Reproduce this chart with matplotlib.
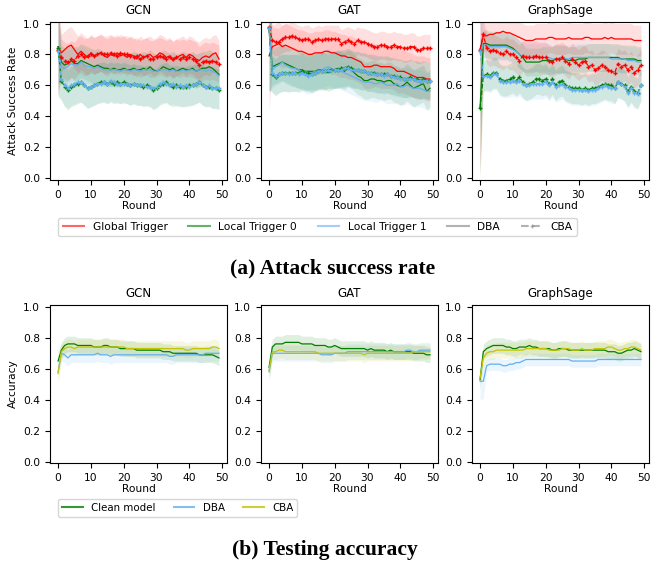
import matplotlib
matplotlib.use('Agg')
import matplotlib.pyplot as plt
from matplotlib.lines import Line2D
import numpy as np

rounds = list(range(50))
models = ['GCN', 'GAT', 'GraphSage']

# ---- attack success rate (top row) ----
# gt = global trigger, lt0/lt1 = local trigger 0/1 ; dba solid, cba dashed+
gcn_gt_dba = [0.85, 0.81, 0.83, 0.85, 0.86, 0.83, 0.80, 0.82, 0.80, 0.78, 0.81, 0.79, 0.80, 0.81, 0.79, 0.78, 0.80, 0.79, 0.81, 0.79,
              0.80, 0.78, 0.80, 0.79, 0.77, 0.80, 0.78, 0.79, 0.80, 0.78, 0.79, 0.81, 0.80, 0.78, 0.79, 0.76, 0.78, 0.79, 0.80, 0.78,
              0.80, 0.79, 0.77, 0.76, 0.78, 0.79, 0.78, 0.80, 0.81, 0.77]
gcn_gt_cba = [0.83, 0.78, 0.76, 0.75, 0.77, 0.76, 0.79, 0.80, 0.78, 0.79, 0.80, 0.79, 0.80, 0.81, 0.80, 0.80, 0.81, 0.80, 0.79, 0.81,
              0.80, 0.80, 0.79, 0.78, 0.79, 0.77, 0.78, 0.79, 0.77, 0.77, 0.78, 0.79, 0.78, 0.77, 0.78, 0.77, 0.78, 0.77, 0.78, 0.77,
              0.78, 0.77, 0.76, 0.73, 0.75, 0.76, 0.75, 0.76, 0.75, 0.74]
gcn_lt0_dba = [0.85, 0.75, 0.73, 0.74, 0.76, 0.74, 0.74, 0.76, 0.75, 0.74, 0.73, 0.72, 0.73, 0.72, 0.71, 0.71, 0.70, 0.71, 0.70, 0.70,
               0.71, 0.70, 0.70, 0.71, 0.70, 0.70, 0.71, 0.70, 0.72, 0.70, 0.69, 0.70, 0.72, 0.71, 0.70, 0.71, 0.69, 0.70, 0.71, 0.70,
               0.70, 0.71, 0.69, 0.70, 0.71, 0.71, 0.72, 0.71, 0.69, 0.67]
gcn_lt1_dba = [0.83, 0.72, 0.71, 0.72, 0.74, 0.73, 0.73, 0.75, 0.73, 0.72, 0.72, 0.71, 0.72, 0.71, 0.70, 0.70, 0.70, 0.70, 0.70, 0.69,
               0.70, 0.70, 0.69, 0.70, 0.70, 0.69, 0.70, 0.70, 0.70, 0.69, 0.69, 0.70, 0.70, 0.70, 0.69, 0.70, 0.69, 0.69, 0.70, 0.69,
               0.70, 0.70, 0.69, 0.70, 0.70, 0.69, 0.70, 0.69, 0.68, 0.66]
gcn_lt0_cba = [0.84, 0.63, 0.59, 0.57, 0.59, 0.60, 0.61, 0.62, 0.60, 0.58, 0.59, 0.60, 0.61, 0.62, 0.62, 0.61, 0.62, 0.61, 0.62, 0.61,
               0.62, 0.61, 0.60, 0.61, 0.60, 0.60, 0.59, 0.60, 0.59, 0.57, 0.58, 0.60, 0.61, 0.62, 0.60, 0.59, 0.60, 0.59, 0.59, 0.59,
               0.60, 0.60, 0.61, 0.62, 0.60, 0.59, 0.59, 0.58, 0.58, 0.57]
gcn_lt1_cba = [0.82, 0.64, 0.60, 0.58, 0.60, 0.61, 0.62, 0.62, 0.60, 0.58, 0.59, 0.60, 0.61, 0.61, 0.62, 0.61, 0.63, 0.62, 0.61, 0.61,
               0.61, 0.61, 0.60, 0.61, 0.60, 0.60, 0.60, 0.59, 0.59, 0.58, 0.59, 0.61, 0.62, 0.61, 0.60, 0.61, 0.59, 0.60, 0.59, 0.60,
               0.59, 0.60, 0.61, 0.62, 0.60, 0.59, 0.60, 0.58, 0.58, 0.58]

gat_gt_dba = [0.79, 0.85, 0.86, 0.87, 0.85, 0.86, 0.85, 0.84, 0.83, 0.82, 0.82, 0.81, 0.80, 0.80, 0.81, 0.81, 0.81, 0.82, 0.82, 0.81,
              0.81, 0.80, 0.79, 0.79, 0.78, 0.78, 0.77, 0.76, 0.75, 0.72, 0.72, 0.72, 0.73, 0.73, 0.72, 0.72, 0.72, 0.72, 0.71, 0.69,
              0.69, 0.69, 0.68, 0.67, 0.66, 0.65, 0.65, 0.65, 0.64, 0.64]
gat_gt_cba = [0.98, 0.89, 0.88, 0.88, 0.90, 0.91, 0.91, 0.92, 0.91, 0.90, 0.89, 0.90, 0.90, 0.88, 0.89, 0.90, 0.89, 0.90, 0.90, 0.90,
              0.90, 0.90, 0.87, 0.88, 0.89, 0.88, 0.87, 0.89, 0.88, 0.88, 0.87, 0.86, 0.85, 0.85, 0.86, 0.86, 0.85, 0.85, 0.86, 0.85,
              0.85, 0.84, 0.84, 0.85, 0.85, 0.83, 0.83, 0.84, 0.84, 0.84]
gat_lt0_dba = [0.96, 0.72, 0.73, 0.74, 0.75, 0.74, 0.73, 0.72, 0.71, 0.70, 0.70, 0.69, 0.69, 0.69, 0.69, 0.70, 0.70, 0.69, 0.68, 0.69,
               0.70, 0.71, 0.70, 0.69, 0.71, 0.70, 0.68, 0.66, 0.65, 0.63, 0.63, 0.64, 0.64, 0.63, 0.63, 0.62, 0.63, 0.63, 0.61, 0.60,
               0.59, 0.60, 0.62, 0.60, 0.58, 0.59, 0.60, 0.61, 0.56, 0.58]
gat_lt1_dba = [0.96, 0.70, 0.72, 0.73, 0.75, 0.73, 0.72, 0.71, 0.71, 0.70, 0.69, 0.69, 0.68, 0.68, 0.69, 0.69, 0.70, 0.71, 0.72, 0.71,
               0.70, 0.70, 0.69, 0.68, 0.67, 0.66, 0.65, 0.64, 0.63, 0.62, 0.62, 0.62, 0.61, 0.61, 0.62, 0.61, 0.60, 0.60, 0.60, 0.61,
               0.59, 0.59, 0.60, 0.59, 0.58, 0.58, 0.58, 0.57, 0.56, 0.56]
gat_lt0_cba = [0.97, 0.67, 0.65, 0.67, 0.68, 0.68, 0.68, 0.68, 0.68, 0.68, 0.69, 0.68, 0.68, 0.67, 0.68, 0.69, 0.69, 0.69, 0.70, 0.70,
               0.70, 0.70, 0.71, 0.71, 0.72, 0.71, 0.70, 0.70, 0.69, 0.69, 0.68, 0.68, 0.68, 0.67, 0.67, 0.67, 0.67, 0.66, 0.66, 0.65,
               0.65, 0.64, 0.64, 0.65, 0.64, 0.64, 0.63, 0.64, 0.63, 0.63]
gat_lt1_cba = [0.97, 0.68, 0.66, 0.67, 0.68, 0.68, 0.67, 0.68, 0.68, 0.67, 0.68, 0.67, 0.66, 0.67, 0.68, 0.69, 0.69, 0.69, 0.70, 0.69,
               0.70, 0.70, 0.70, 0.71, 0.71, 0.70, 0.70, 0.70, 0.69, 0.69, 0.68, 0.68, 0.67, 0.67, 0.67, 0.66, 0.67, 0.66, 0.65, 0.65,
               0.64, 0.64, 0.64, 0.64, 0.64, 0.63, 0.63, 0.63, 0.63, 0.63]

sage_gt_dba = [0.83, 0.92, 0.92, 0.93, 0.93, 0.94, 0.94, 0.95, 0.94, 0.94, 0.93, 0.92, 0.91, 0.90, 0.89, 0.89, 0.89, 0.90, 0.90, 0.90,
               0.90, 0.91, 0.91, 0.90, 0.90, 0.90, 0.90, 0.91, 0.90, 0.90, 0.90, 0.90, 0.91, 0.91, 0.90, 0.90, 0.90, 0.90, 0.91, 0.90,
               0.91, 0.90, 0.90, 0.90, 0.90, 0.90, 0.90, 0.89, 0.89, 0.89]
sage_gt_cba = [0.83, 0.93, 0.84, 0.82, 0.83, 0.82, 0.81, 0.80, 0.82, 0.80, 0.80, 0.78, 0.76, 0.79, 0.78, 0.78, 0.78, 0.79, 0.78, 0.78,
               0.78, 0.76, 0.75, 0.77, 0.77, 0.78, 0.76, 0.74, 0.77, 0.75, 0.73, 0.75, 0.76, 0.72, 0.73, 0.70, 0.71, 0.73, 0.72, 0.70,
               0.69, 0.68, 0.74, 0.72, 0.73, 0.70, 0.72, 0.68, 0.70, 0.73]
sage_lt0_dba = [0.45, 0.87, 0.87, 0.86, 0.86, 0.86, 0.86, 0.86, 0.86, 0.85, 0.84, 0.82, 0.80, 0.78, 0.75, 0.75, 0.75, 0.75, 0.75, 0.76,
                0.76, 0.76, 0.76, 0.77, 0.77, 0.77, 0.77, 0.76, 0.76, 0.76, 0.77, 0.77, 0.77, 0.78, 0.78, 0.78, 0.78, 0.78, 0.78, 0.78,
                0.78, 0.78, 0.78, 0.77, 0.77, 0.77, 0.77, 0.77, 0.76, 0.76]
sage_lt1_dba = [0.82, 0.86, 0.86, 0.85, 0.85, 0.85, 0.85, 0.85, 0.85, 0.84, 0.83, 0.82, 0.80, 0.79, 0.78, 0.78, 0.78, 0.78, 0.78, 0.78,
                0.78, 0.78, 0.77, 0.77, 0.77, 0.77, 0.77, 0.77, 0.78, 0.78, 0.78, 0.78, 0.78, 0.78, 0.78, 0.78, 0.78, 0.78, 0.78, 0.78,
                0.77, 0.77, 0.77, 0.77, 0.77, 0.76, 0.76, 0.76, 0.75, 0.75]
sage_lt0_cba = [0.45, 0.66, 0.67, 0.66, 0.68, 0.68, 0.64, 0.63, 0.63, 0.64, 0.65, 0.63, 0.65, 0.62, 0.60, 0.61, 0.62, 0.64, 0.64, 0.63,
                0.64, 0.61, 0.64, 0.60, 0.62, 0.63, 0.60, 0.59, 0.58, 0.58, 0.58, 0.57, 0.58, 0.57, 0.58, 0.58, 0.59, 0.60, 0.61, 0.60,
                0.60, 0.58, 0.62, 0.61, 0.60, 0.56, 0.59, 0.56, 0.55, 0.60]
sage_lt1_cba = [0.82, 0.66, 0.66, 0.65, 0.67, 0.67, 0.63, 0.62, 0.62, 0.62, 0.63, 0.62, 0.63, 0.61, 0.60, 0.60, 0.61, 0.61, 0.61, 0.61,
                0.62, 0.60, 0.62, 0.59, 0.60, 0.61, 0.59, 0.58, 0.57, 0.57, 0.57, 0.57, 0.57, 0.56, 0.57, 0.57, 0.58, 0.59, 0.60, 0.59,
                0.58, 0.58, 0.62, 0.61, 0.59, 0.55, 0.58, 0.55, 0.54, 0.60]

# std bands (first round is much wider)
gcn_gt_sd = [0.30] + [0.12] * 49
gcn_lt_dba_sd = [0.25] + [0.11] * 49
gcn_lt_cba_sd = [0.30] + [0.13] * 49
gat_gt_dba_sd = [0.35] + [0.14] * 49
gat_gt_cba_sd = [0.10] + [0.09] * 49
gat_lt_dba_sd = [0.40] + [0.12] * 49
gat_lt_cba_sd = [0.40] + [0.12] * 49
sage_gt_sd = [0.80] + [0.10] * 49
sage_lt_dba_sd = [0.45] + [0.09] * 49
sage_lt_cba_sd = [0.45] + [0.10] * 49

# ---- testing accuracy (bottom row) ----
gcn_clean = [0.65, 0.72, 0.75, 0.76, 0.76, 0.76, 0.75, 0.75, 0.75, 0.75, 0.75, 0.74, 0.74, 0.74, 0.75, 0.75, 0.74, 0.74, 0.74, 0.73,
             0.73, 0.73, 0.73, 0.73, 0.72, 0.72, 0.72, 0.72, 0.72, 0.72, 0.72, 0.72, 0.71, 0.71, 0.71, 0.70, 0.70, 0.70, 0.70, 0.70,
             0.70, 0.70, 0.70, 0.69, 0.69, 0.69, 0.69, 0.69, 0.68, 0.67]
gcn_dba = [0.58, 0.70, 0.69, 0.67, 0.69, 0.69, 0.69, 0.69, 0.69, 0.69, 0.69, 0.69, 0.70, 0.69, 0.69, 0.69, 0.68, 0.69, 0.69, 0.69,
           0.69, 0.69, 0.69, 0.69, 0.69, 0.69, 0.69, 0.69, 0.69, 0.69, 0.69, 0.69, 0.69, 0.69, 0.68, 0.68, 0.69, 0.69, 0.69, 0.69,
           0.69, 0.69, 0.69, 0.69, 0.69, 0.70, 0.70, 0.70, 0.70, 0.70]
gcn_cba = [0.57, 0.71, 0.73, 0.74, 0.74, 0.73, 0.74, 0.74, 0.74, 0.74, 0.74, 0.74, 0.74, 0.74, 0.74, 0.74, 0.74, 0.74, 0.74, 0.74,
           0.74, 0.73, 0.73, 0.73, 0.73, 0.73, 0.73, 0.73, 0.73, 0.73, 0.73, 0.73, 0.73, 0.73, 0.73, 0.73, 0.73, 0.73, 0.73, 0.72,
           0.72, 0.73, 0.73, 0.73, 0.73, 0.73, 0.73, 0.74, 0.74, 0.73]
gat_clean = [0.61, 0.74, 0.76, 0.76, 0.76, 0.77, 0.77, 0.77, 0.77, 0.77, 0.76, 0.76, 0.76, 0.76, 0.75, 0.75, 0.75, 0.75, 0.74, 0.74,
             0.75, 0.74, 0.73, 0.73, 0.73, 0.73, 0.73, 0.73, 0.73, 0.73, 0.72, 0.73, 0.72, 0.72, 0.72, 0.72, 0.71, 0.72, 0.71, 0.71,
             0.71, 0.71, 0.71, 0.71, 0.70, 0.70, 0.70, 0.70, 0.69, 0.69]
gat_dba = [0.58, 0.70, 0.70, 0.70, 0.70, 0.70, 0.70, 0.70, 0.70, 0.70, 0.70, 0.70, 0.70, 0.70, 0.70, 0.70, 0.69, 0.69, 0.69, 0.69,
           0.70, 0.70, 0.70, 0.70, 0.71, 0.71, 0.71, 0.71, 0.71, 0.71, 0.71, 0.71, 0.71, 0.71, 0.71, 0.71, 0.71, 0.71, 0.71, 0.71,
           0.71, 0.71, 0.72, 0.72, 0.71, 0.71, 0.72, 0.72, 0.72, 0.72]
gat_cba = [0.59, 0.71, 0.71, 0.72, 0.72, 0.71, 0.71, 0.71, 0.71, 0.71, 0.71, 0.71, 0.71, 0.71, 0.71, 0.70, 0.70, 0.70, 0.70, 0.70,
           0.70, 0.70, 0.70, 0.70, 0.70, 0.70, 0.70, 0.70, 0.70, 0.69, 0.70, 0.70, 0.70, 0.70, 0.70, 0.70, 0.70, 0.70, 0.70, 0.70,
           0.70, 0.70, 0.70, 0.70, 0.71, 0.71, 0.71, 0.71, 0.71, 0.71]
sage_clean = [0.53, 0.71, 0.73, 0.74, 0.75, 0.75, 0.75, 0.75, 0.74, 0.74, 0.73, 0.73, 0.74, 0.74, 0.74, 0.75, 0.74, 0.74, 0.73, 0.73,
              0.73, 0.73, 0.72, 0.72, 0.73, 0.73, 0.73, 0.72, 0.72, 0.72, 0.72, 0.72, 0.72, 0.72, 0.72, 0.72, 0.72, 0.72, 0.72, 0.71,
              0.71, 0.71, 0.70, 0.70, 0.71, 0.72, 0.72, 0.73, 0.72, 0.71]
sage_dba = [0.52, 0.52, 0.62, 0.63, 0.63, 0.63, 0.63, 0.62, 0.62, 0.63, 0.63, 0.64, 0.64, 0.65, 0.66, 0.66, 0.66, 0.66, 0.66, 0.66,
            0.66, 0.66, 0.66, 0.66, 0.66, 0.66, 0.66, 0.66, 0.65, 0.65, 0.65, 0.65, 0.65, 0.65, 0.65, 0.65, 0.66, 0.66, 0.66, 0.66,
            0.66, 0.66, 0.66, 0.66, 0.66, 0.66, 0.66, 0.66, 0.66, 0.66]
sage_cba = [0.54, 0.67, 0.70, 0.71, 0.71, 0.72, 0.72, 0.72, 0.72, 0.72, 0.72, 0.72, 0.72, 0.72, 0.73, 0.73, 0.73, 0.73, 0.73, 0.73,
            0.73, 0.72, 0.72, 0.72, 0.72, 0.73, 0.73, 0.73, 0.72, 0.72, 0.72, 0.73, 0.72, 0.72, 0.72, 0.73, 0.73, 0.73, 0.73, 0.74,
            0.74, 0.73, 0.72, 0.72, 0.73, 0.73, 0.74, 0.74, 0.73, 0.72]

acc_sd = [0.06] + [0.05] * 49
sage_dba_sd = [0.12, 0.11] + [0.04] * 48

RED, GREEN, BLUE, YEL = 'red', 'green', '#62b0f2', '#c4c400'

plt.rcParams['font.size'] = 7.7
fig = plt.figure(figsize=(6.6, 5.63), dpi=100)

lefts = [50 / 660, 261 / 660, 472 / 660]
w = 177 / 660
h = 158 / 563


def band(ax, y, sd, c):
    y = np.array(y)
    sd = np.array(sd)
    ax.fill_between(rounds, y - sd, y + sd, color=c, alpha=0.12, lw=0)


asr = [
    (gcn_gt_dba, gcn_gt_cba, gcn_lt0_dba, gcn_lt1_dba, gcn_lt0_cba, gcn_lt1_cba,
     gcn_gt_sd, gcn_gt_sd, gcn_lt_dba_sd, gcn_lt_cba_sd),
    (gat_gt_dba, gat_gt_cba, gat_lt0_dba, gat_lt1_dba, gat_lt0_cba, gat_lt1_cba,
     gat_gt_dba_sd, gat_gt_cba_sd, gat_lt_dba_sd, gat_lt_cba_sd),
    (sage_gt_dba, sage_gt_cba, sage_lt0_dba, sage_lt1_dba, sage_lt0_cba, sage_lt1_cba,
     sage_gt_sd, sage_gt_sd, sage_lt_dba_sd, sage_lt_cba_sd),
]

for i, (gd, gc, l0d, l1d, l0c, l1c, gd_sd, gc_sd, ld_sd, lc_sd) in enumerate(asr):
    ax = fig.add_axes([lefts[i], 1 - 180 / 563, w, h])
    band(ax, gd, gd_sd, RED)
    band(ax, gc, gc_sd, RED)
    band(ax, l0d, ld_sd, GREEN)
    band(ax, l1d, ld_sd, BLUE)
    band(ax, l0c, lc_sd, GREEN)
    band(ax, l1c, lc_sd, BLUE)
    ax.plot(rounds, gd, color=RED, lw=0.9)
    ax.plot(rounds, l0d, color=GREEN, lw=0.9)
    ax.plot(rounds, l1d, color=BLUE, lw=0.9)
    ax.plot(rounds, gc, '--+', color=RED, lw=0.9, ms=3.5)
    ax.plot(rounds, l0c, '--+', color=GREEN, lw=0.9, ms=3.5)
    ax.plot(rounds, l1c, '--+', color=BLUE, lw=0.9, ms=3.5)
    ax.set_ylim(-0.015, 1.01)
    ax.set_yticks([0.0, 0.2, 0.4, 0.6, 0.8, 1.0])
    ax.set_xticks([0, 10, 20, 30, 40, 50])
    ax.set_title(models[i], fontsize=8.5)
    ax.set_xlabel('Round', labelpad=1)
    if i == 0:
        ax.set_ylabel('Attack Success Rate')

acc = [
    (gcn_clean, gcn_dba, gcn_cba, acc_sd, acc_sd, acc_sd),
    (gat_clean, gat_dba, gat_cba, acc_sd, acc_sd, acc_sd),
    (sage_clean, sage_dba, sage_cba, acc_sd, sage_dba_sd, acc_sd),
]

for i, (cl, db, cb, cl_sd, db_sd, cb_sd) in enumerate(acc):
    ax = fig.add_axes([lefts[i], 1 - 463 / 563, w, h])
    band(ax, cl, cl_sd, GREEN)
    band(ax, db, db_sd, BLUE)
    band(ax, cb, cb_sd, YEL)
    ax.plot(rounds, cl, color=GREEN, lw=0.9)
    ax.plot(rounds, db, color=BLUE, lw=0.9)
    ax.plot(rounds, cb, color=YEL, lw=0.9)
    ax.set_ylim(-0.005, 1.01)
    ax.set_yticks([0.0, 0.2, 0.4, 0.6, 0.8, 1.0])
    ax.set_xticks([0, 10, 20, 30, 40, 50])
    ax.set_title(models[i], fontsize=8.5)
    ax.set_xlabel('Round', labelpad=1)
    if i == 0:
        ax.set_ylabel('Accuracy')

top_handles = [
    Line2D([], [], color=RED, alpha=0.6, label='Global Trigger'),
    Line2D([], [], color=GREEN, alpha=0.6, label='Local Trigger 0'),
    Line2D([], [], color=BLUE, alpha=0.6, label='Local Trigger 1'),
    Line2D([], [], color='gray', alpha=0.6, label='DBA'),
    Line2D([], [], color='gray', alpha=0.6, ls='--', marker='+', ms=3.5, label='CBA'),
]
fig.legend(handles=top_handles, loc='center left', bbox_to_anchor=(53 / 660, 1 - 227 / 563),
           ncol=5, fontsize=7.7, numpoints=1, columnspacing=1.95)

bot_handles = [
    Line2D([], [], color=GREEN, alpha=0.8, label='Clean model'),
    Line2D([], [], color=BLUE, alpha=0.8, label='DBA'),
    Line2D([], [], color=YEL, alpha=0.8, label='CBA'),
]
fig.legend(handles=bot_handles, loc='center left', bbox_to_anchor=(53 / 660, 1 - 508 / 563),
           ncol=3, fontsize=7.4, columnspacing=1.8)

fig.text(333 / 660, 1 - 268 / 563, '(a) Attack success rate', ha='center', va='center',
         family='Liberation Serif', weight='bold', fontsize=15.5)
fig.text(325 / 660, 1 - 550 / 563, '(b) Testing accuracy', ha='center', va='center',
         family='Liberation Serif', weight='bold', fontsize=15.5)

fig.savefig('out.png', dpi=100)
